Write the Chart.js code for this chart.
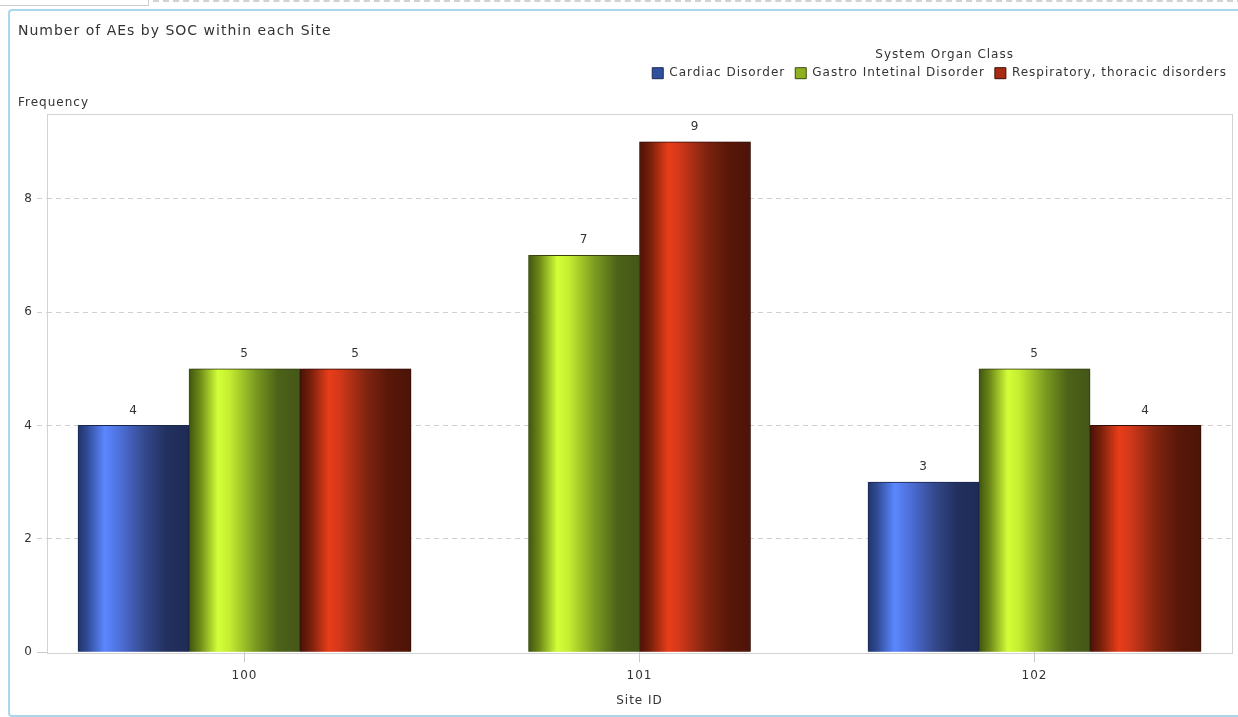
<!DOCTYPE html>
<html>
<head>
<meta charset="utf-8">
<title>Number of AEs by SOC within each Site</title>
<script src="https://cdn.jsdelivr.net/npm/chart.js@4.4.1/dist/chart.umd.min.js"></script>
<style>
  html, body { margin: 0; padding: 0; background: #fff; overflow: hidden; }
  body { width: 1238px; height: 717px; position: relative; }
  .tab { position: absolute; left: 0; top: 0; width: 148px; height: 5px; border-right: 1px solid #cfcfcf; border-bottom: 1px solid #cfcfcf; }
  .tabline { position: absolute; left: 153px; top: 0; width: 1090px; border-top: 2px dashed #d2d2d2; }
  .frame { position: absolute; left: 8px; top: 9px; width: 1240px; height: 708px; border: 2px solid #acd6ec; border-radius: 4px; box-sizing: border-box; }
  #wrap { position: absolute; left: 0; top: 0; width: 1238px; height: 717px; }
</style>
</head>
<body>
<div class="tab"></div>
<div class="tabline"></div>
<div class="frame"></div>
<div id="wrap"><canvas id="aeChart"></canvas></div>
<script>
  const sites = ["100", "101", "102"];
  const socNames = ["Cardiac Disorder", "Gastro Intetinal Disorder", "Respiratory, thoracic disorders"];
  const cardiacCounts = [4, null, 3];
  const gastroCounts = [5, 7, 5];
  const respiratoryCounts = [5, 9, 4];
  const yTicks = [0, 2, 4, 6, 8];

  // horizontal shading for each series (cylinder look)
  const shades = [
    [[0, "#22356a"], [0.08, "#2f4a94"], [0.24, "#5b87ff"], [0.4, "#4b6bd2"], [0.6, "#34498c"], [0.8, "#22305f"], [1, "#1f2b55"]],
    [[0, "#3f5510"], [0.1, "#6f8a18"], [0.26, "#d2ff38"], [0.36, "#c6ee30"], [0.6, "#7a9a20"], [0.8, "#4d6218"], [1, "#445718"]],
    [[0, "#4a1206"], [0.1, "#7a200c"], [0.26, "#e83d19"], [0.36, "#d2381a"], [0.6, "#7f2410"], [0.8, "#581709"], [1, "#4d1408"]],
  ];

  Chart.defaults.font.family = "'DejaVu Sans', Verdana, sans-serif";
  Chart.defaults.font.size = 12;
  Chart.defaults.color = "#333";

  // slightly looser text, set before measuring and before painting
  const textSpacing = {
    id: "textSpacing",
    beforeUpdate(chart) { chart.ctx.letterSpacing = "1px"; },
    beforeLayout(chart) { chart.ctx.letterSpacing = "1px"; },
    beforeDraw(chart) { chart.ctx.letterSpacing = "1px"; },
  };

  const barShading = {
    id: "barShading",
    beforeDatasetsDraw(chart) {
      const { ctx, chartArea: a } = chart;
      ctx.save();
      ctx.strokeStyle = "#d3d3d3";
      ctx.lineWidth = 1;
      ctx.strokeRect(Math.round(a.left) + 0.5, Math.round(a.top) + 0.5, Math.round(a.right - a.left), Math.round(a.bottom - a.top));
      ctx.restore();

      chart.data.datasets.forEach((ds, i) => {
        const meta = chart.getDatasetMeta(i);
        meta.data.forEach((el) => {
          const { x, width } = el.getProps(["x", "width"], true);
          if (!width) return;
          const g = ctx.createLinearGradient(x - width / 2, 0, x + width / 2, 0);
          shades[i].forEach(([stop, col]) => g.addColorStop(stop, col));
          el.options = Object.assign({}, el.options, { backgroundColor: g });
        });
      });
    },
    beforeDatasetDraw(chart) {
      const ctx = chart.ctx;
      ctx.save();
      ctx.shadowColor = "rgba(0,0,0,0.28)";
      ctx.shadowBlur = 3;
      ctx.shadowOffsetX = 2;
      ctx.shadowOffsetY = 0;
    },
    afterDatasetDraw(chart) {
      chart.ctx.restore();
    },
    afterDatasetsDraw(chart) {
      const ctx = chart.ctx;
      ctx.save();
      ctx.font = "12px 'DejaVu Sans', Verdana, sans-serif";
      ctx.fillStyle = "#333";
      ctx.textAlign = "center";
      ctx.textBaseline = "middle";
      chart.data.datasets.forEach((ds, i) => {
        const meta = chart.getDatasetMeta(i);
        meta.data.forEach((el, j) => {
          const v = ds.data[j];
          if (v === null || v === undefined) return;
          ctx.fillText(String(v), el.x, el.y - 15);
        });
      });
      ctx.restore();
    },
  };

  new Chart(document.getElementById("aeChart"), {
    type: "bar",
    data: {
      labels: sites,
      datasets: [
        { label: socNames[0], data: cardiacCounts, backgroundColor: "#2f4f9f", borderColor: "#1c2a52" },
        { label: socNames[1], data: gastroCounts, backgroundColor: "#8fb020", borderColor: "#3a4a10" },
        { label: socNames[2], data: respiratoryCounts, backgroundColor: "#a82a12", borderColor: "#3c0e05" },
      ],
    },
    options: {
      responsive: true,
      maintainAspectRatio: false,
      animation: false,
      datasets: {
        bar: { skipNull: true, barThickness: 111, borderWidth: 1 },
      },
      layout: { padding: { left: 18, right: 1, top: 0, bottom: 9 } },
      plugins: {
        title: {
          display: true,
          text: "Number of AEs by SOC within each Site",
          align: "start",
          color: "#333",
          font: { size: 14, weight: "normal" },
          padding: { top: 23, bottom: 0 },
        },
        legend: {
          position: "top",
          align: "end",
          title: {
            display: true,
            text: "System Organ Class",
            color: "#333",
            font: { size: 12 },
            padding: { top: 9, bottom: -6 },
          },
          labels: { boxWidth: 11, boxHeight: 11, padding: 10, color: "#333", font: { size: 12 } },
        },
        subtitle: {
          display: true,
          text: "Frequency",
          align: "start",
          position: "top",
          weight: 500,
          color: "#333",
          font: { size: 12 },
          padding: { top: 6, bottom: 4 },
        },
        tooltip: { enabled: false },
      },
      scales: {
        x: {
          offset: true,
          grid: { display: true, offset: false, drawOnChartArea: false, drawTicks: true, tickLength: 10, tickColor: "#c8c8c8" },
          border: { display: false },
          ticks: { padding: 6, color: "#333" },
          title: { display: true, text: "Site ID", color: "#333", padding: { top: 5, bottom: 0 } },
        },
        y: {
          min: 0,
          max: 9.5,
          afterBuildTicks: (s) => { s.ticks = yTicks.map((v) => ({ value: v })); },
          afterFit: (s) => { s.width = 29; },
          grid: {
            color: (c) => (c.tick && c.tick.value === 0 ? "rgba(0,0,0,0)" : "#d0d0d0"),
            tickLength: 10,
            tickColor: (c) => (c.tick && c.tick.value === 0 ? "#c8c8c8" : "#d0d0d0"),
            tickBorderDash: (c) => (c.tick && c.tick.value === 0 ? [] : [5, 4]),
          },
          border: { display: false, dash: [5, 4] },
          ticks: { padding: 4, color: "#333" },
        },
        y2: {
          position: "right",
          display: true,
          grid: { display: false },
          border: { display: false },
          ticks: { display: false },
          afterFit: (s) => { s.width = 5; },
        },
      },
    },
    plugins: [textSpacing, barShading],
  });
</script>
</body>
</html>
